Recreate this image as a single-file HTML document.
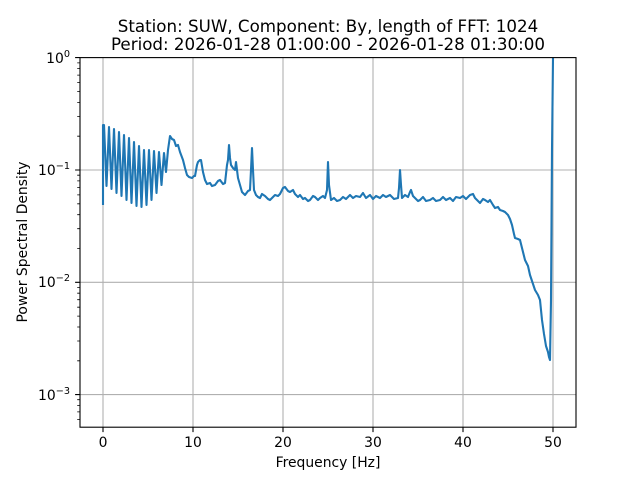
<!DOCTYPE html>
<html><head><style>
body{margin:0;background:#fff;}
svg text{font-family:"DejaVu Sans","Liberation Sans",sans-serif;fill:#000;}
</style></head><body>
<svg width="640" height="480" xmlns="http://www.w3.org/2000/svg">
<rect width="640" height="480" fill="#fff"/>
<g stroke="#b0b0b0" stroke-width="1.1">
<line x1="103" y1="57.6" x2="103" y2="427.2"/><line x1="193" y1="57.6" x2="193" y2="427.2"/>
<line x1="283" y1="57.6" x2="283" y2="427.2"/><line x1="373" y1="57.6" x2="373" y2="427.2"/>
<line x1="463" y1="57.6" x2="463" y2="427.2"/><line x1="553" y1="57.6" x2="553" y2="427.2"/>
<line x1="80" y1="170" x2="576" y2="170"/><line x1="80" y1="282.3" x2="576" y2="282.3"/>
<line x1="80" y1="394.6" x2="576" y2="394.6"/>
</g>
<defs><clipPath id="c"><rect x="80" y="57.6" width="496" height="369.6"/></clipPath></defs>
<path clip-path="url(#c)" fill="none" stroke="#1f77b4" stroke-width="2.1" stroke-linejoin="round"
d="M103,205 L103,125 L104,125 L106.5,186 L109,127 L111.5,189 L114,129 L116.5,193 L119,132 L121.5,196 L124,135 L126.5,200 L129,138 L131.5,203 L134,142 L136.5,206 L139,146 L141.5,207 L144,150 L146.5,205 L149,150 L151.5,200 L154,151 L156.5,193 L159,152 L161.5,185 L164,153 L166,172 L168,150 L170,136 L172,139 L174,140 L176,146 L178,145 L180,152 L183,160 L185,168 L187,175 L189,177 L192,178 L194,176 L195,176 L197,165 L198,162 L200,160 L201,160 L203,172 L205,180 L207,184 L210,183 L212,186 L215,185 L218,181 L220,180 L223,184 L225,183 L227,165 L228,160 L229,145 L230,158 L231,165 L233,168 L235,170 L236,162 L238,178 L240,185 L242,192 L245,195 L248,191 L250,190 L251,170 L252,148 L253,170 L254,190 L256,195 L258,197 L260,198 L262,194 L265,196 L268,199 L270,200 L272,198 L275,195 L278,196 L280,194 L283,188 L285,187 L288,191 L290,192 L293,190 L295,194 L298,197 L300,195 L303,199 L305,198 L308,201 L310,200 L313,196 L315,197 L318,200 L320,198 L323,196 L325,198 L327,190 L328,162 L329,185 L331,200 L334,198 L337,201 L340,200 L343,197 L346,199 L350,195 L353,198 L356,196 L360,197 L363,193 L366,198 L370,195 L373,199 L376,196 L380,198 L383,195 L386,197 L390,195 L394,199 L398,198 L399,188 L400,170 L401,185 L402,198 L405,195 L408,197 L410,192 L411,190 L413,196 L415,198 L418,201 L420,200 L423,197 L426,201 L430,200 L433,198 L436,201 L440,200 L443,197 L446,200 L450,198 L453,201 L456,197 L460,198 L463,196 L466,199 L470,195 L473,194 L475,198 L478,201 L480,203 L483,199 L485,200 L488,202 L490,200 L493,205 L495,208 L498,207 L500,210 L503,211 L505,212 L508,215 L510,219 L512,225 L514,234 L515,238 L518,239 L520,240 L522,248 L525,260 L528,266 L530,275 L533,284 L535,290 L538,295 L540,300 L542,320 L544,334 L545,340 L546,346 L548,352 L549,357 L550,360 L551,300 L552,150 L553,58 L554,40"/>
<g stroke="#000" stroke-width="1.1">
<path d="M103,427.2v4.9M193,427.2v4.9M283,427.2v4.9M373,427.2v4.9M463,427.2v4.9M553,427.2v4.9M80,57.6h-4.9M80,170h-4.9M80,282.3h-4.9M80,394.6h-4.9"/>
</g>
<path stroke="#000" stroke-width="0.8" d="M80,419.4h-2.8M80,411.9h-2.8M80,405.4h-2.8M80,399.7h-2.8M80,360.8h-2.8M80,341h-2.8M80,327h-2.8M80,316.1h-2.8M80,307.2h-2.8M80,299.7h-2.8M80,293.2h-2.8M80,287.5h-2.8M80,248.5h-2.8M80,228.7h-2.8M80,214.7h-2.8M80,203.8h-2.8M80,194.9h-2.8M80,187.4h-2.8M80,180.9h-2.8M80,175.2h-2.8M80,136.2h-2.8M80,116.4h-2.8M80,102.4h-2.8M80,91.5h-2.8M80,82.6h-2.8M80,75.1h-2.8M80,68.6h-2.8M80,62.9h-2.8"/>
<rect x="80" y="57.6" width="496" height="369.6" fill="none" stroke="#000" stroke-width="1.1"/>
<g font-size="13.9" text-anchor="middle">
<text x="103" y="447">0</text><text x="193" y="447">10</text><text x="283" y="447">20</text>
<text x="373" y="447">30</text><text x="463" y="447">40</text><text x="553" y="447">50</text>
</g>
<g font-size="13.9" text-anchor="end">
<text x="70" y="63">10<tspan font-size="9.7" dy="-6">0</tspan></text>
<text x="70" y="175">10<tspan font-size="9.7" dy="-6">−1</tspan></text>
<text x="70" y="287">10<tspan font-size="9.7" dy="-6">−2</tspan></text>
<text x="70" y="400">10<tspan font-size="9.7" dy="-6">−3</tspan></text>
</g>
<text x="328" y="467" font-size="13.9" text-anchor="middle">Frequency [Hz]</text>
<text transform="translate(27,242) rotate(-90)" font-size="13.9" text-anchor="middle">Power Spectral Density</text>
<text x="328" y="32" font-size="16.7" text-anchor="middle">Station: SUW, Component: By, length of FFT: 1024</text>
<text x="328" y="50" font-size="16.7" text-anchor="middle">Period: 2026-01-28 01:00:00 - 2026-01-28 01:30:00</text>
</svg>
</body></html>
